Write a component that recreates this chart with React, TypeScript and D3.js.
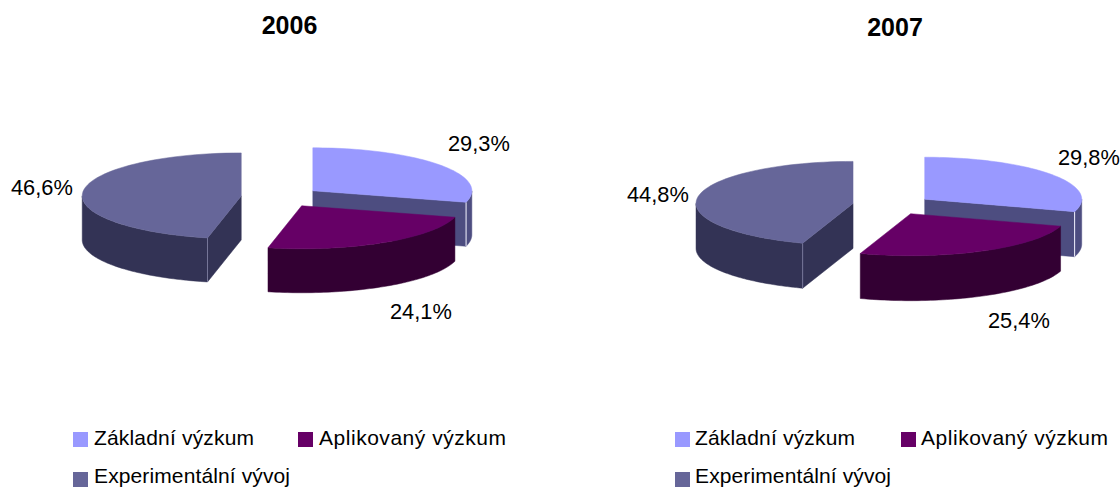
import React from "react";
import * as d3 from "d3";

const categories = ["Základní výzkum", "Aplikovaný výzkum", "Experimentální vývoj"];
const years = ["2006", "2007"];
const values2006 = [29.3, 24.1, 46.6];
const values2007 = [29.8, 25.4, 44.8];
const valuesByYear = [values2006, values2007];

const topColors = ["#9999ff", "#660066", "#666699"];
const sideColors = ["#4d4d80", "#330033", "#333355"];
const edgeColors = ["#f4f4ff", "#330033", "#77779a"];
const legendTextWidths = [160, 187, 196];

const FONT = "'Liberation Sans', Arial, sans-serif";

const layouts = [
  {
    cx: 281, cy: 197, rx: 159, ry: 43, depth: 44, explode: 40, yK: 0.256,
    title: { x: 289.5, y: 34 },
    labels: [{ x: 448, y: 151 }, { x: 390, y: 319 }, { x: 11, y: 195 }],
    legendX: [73, 298], textX: [94, 319], legendRows: [432, 472], textRows: [445, 483],
  },
  {
    cx: 892.5, cy: 205, rx: 157, ry: 42, depth: 45, explode: 40, yK: 0.244,
    title: { x: 895, y: 36 },
    labels: [{ x: 1058, y: 165 }, { x: 988, y: 328 }, { x: 627, y: 202 }],
    legendX: [675, 901], textX: [695, 921], legendRows: [432, 472], textRows: [445, 483],
  },
];

function Pie({ values, year, layout }: any) {
  const arcs = d3.pie<number>().sort(null).value((d) => d)(values);
  const { cx, cy, rx, ry, depth, explode, yK } = layout;

  const pieces = arcs.map((a, i) => {
    const mid = (a.startAngle + a.endAngle) / 2;
    const ax = cx + explode * Math.sin(mid);
    const ay = cy - explode * yK * Math.cos(mid);
    const px = d3.scaleLinear().domain([0, 1]).range([ax, ax + rx]);
    const py = d3.scaleLinear().domain([0, 1]).range([ay, ay - ry]);
    const pt = (t: number, dz = 0): [number, number] => [px(Math.sin(t)), py(Math.cos(t)) + dz];
    const samples = (s: number, e: number) =>
      d3.range(0, 61).map((k) => s + ((e - s) * k) / 60);
    const line = d3.line();
    const top =
      line([[ax, ay], ...samples(a.startAngle, a.endAngle).map((t) => pt(t))])! + "Z";
    // outer rim: the front-facing part only, between 3 and 9 o'clock
    const rs = Math.max(a.startAngle, Math.PI / 2);
    const re = Math.min(a.endAngle, (Math.PI * 3) / 2);
    const rim =
      re > rs
        ? line([
            ...samples(rs, re).map((t) => pt(t)),
            ...samples(rs, re).reverse().map((t) => pt(t, depth)),
          ])! + "Z"
        : null;
    // radial wall: visible when it faces the viewer
    let wall: string | null = null;
    const wallAngle = i === 0 ? a.endAngle : i === 2 ? a.startAngle : null;
    if (wallAngle !== null) {
      const e = pt(wallAngle);
      wall =
        line([[ax, ay], e, [e[0], e[1] + depth], [ax, ay + depth]])! + "Z";
    }
    const endPt = pt(a.endAngle);
    const startPt = pt(a.startAngle);
    const edge =
      i === 0
        ? line([endPt, [endPt[0], endPt[1] + depth]])
        : i === 2
        ? line([startPt, [startPt[0], startPt[1] + depth]])
        : null;
    return { i, top, rim, wall, edge };
  });

  const order = [2, 0, 1];
  return (
    <g>
      <text x={layout.title.x} y={layout.title.y} textAnchor="middle"
        fontFamily={FONT} fontWeight="bold" fontSize={25} fill="#000">{year}</text>
      {order.map((idx) => {
        const p = pieces[idx];
        return (
          <g key={idx}>
            {p.rim && <path d={p.rim} fill={sideColors[idx]} stroke={sideColors[idx]} strokeWidth={0.5} />}
            {p.wall && <path d={p.wall} fill={sideColors[idx]} stroke={sideColors[idx]} strokeWidth={0.5} />}
            {p.edge && <path d={p.edge} fill="none" stroke={edgeColors[idx]} strokeWidth={1} />}
            <path d={p.top} fill={topColors[idx]} stroke={topColors[idx]} strokeWidth={0.5} />
          </g>
        );
      })}
      {values.map((v: number, i: number) => (
        <text key={i} x={layout.labels[i].x} y={layout.labels[i].y}
          fontFamily={FONT} fontSize={21.8} fill="#000">
          {d3.format(".1f")(v).replace(".", ",") + "%"}
        </text>
      ))}
      {categories.map((c, i) => {
        const col = i === 2 ? 0 : i;
        const row = i === 2 ? 1 : 0;
        return (
          <g key={c}>
            <rect x={layout.legendX[col]} y={layout.legendRows[row]} width={15} height={15} fill={topColors[i]} />
            <text x={layout.textX[col]} y={layout.textRows[row]} fontFamily={FONT} fontSize={21}
              textLength={legendTextWidths[i]} lengthAdjust="spacing" fill="#000">{c}</text>
          </g>
        );
      })}
    </g>
  );
}

export default function App() {
  return (
    <svg width={1120} height={488} viewBox="0 0 1120 488"
      style={{ position: "absolute", left: 0, top: 0, background: "#fff" }}>
      {years.map((y, i) => (
        <Pie key={y} year={y} values={valuesByYear[i]} layout={layouts[i]} />
      ))}
    </svg>
  );
}
